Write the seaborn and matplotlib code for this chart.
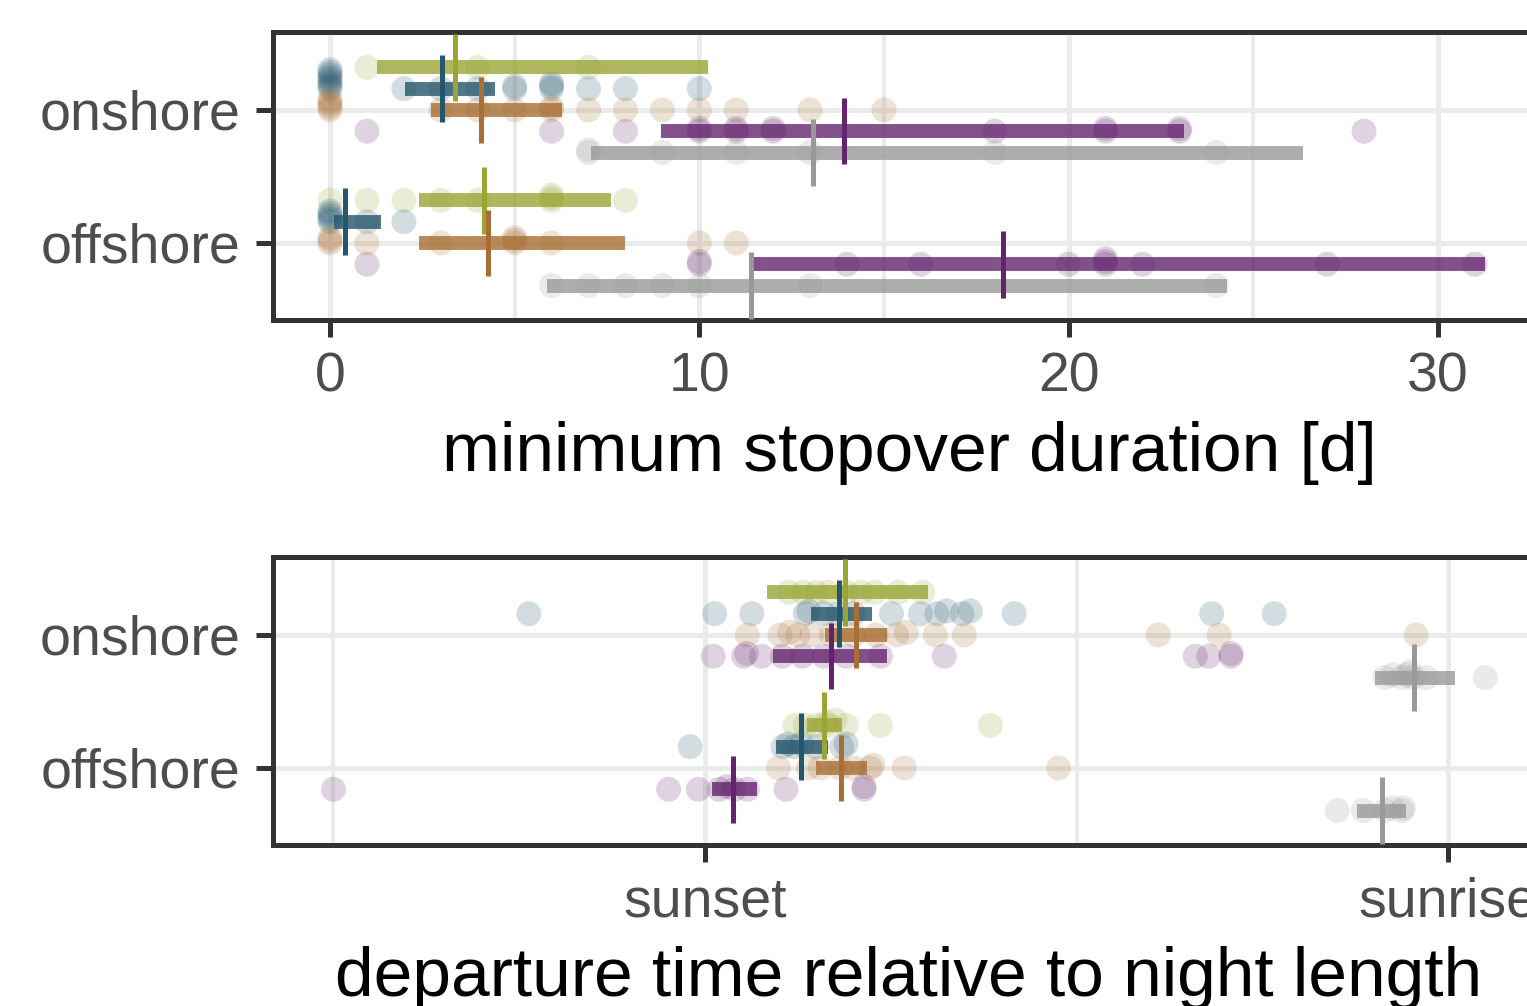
import numpy as np
import pandas as pd
import matplotlib
matplotlib.use("Agg")
import matplotlib.pyplot as plt
import seaborn as sns

# ---------------- data ----------------
sites = ["onshore", "offshore"]
species = ["A", "B", "C", "D", "E"]
colors = ["#9AA536", "#24566C", "#A86E33", "#63246D", "#999999"]

# minimum stopover duration [d] -- individual points
dur_on_A = [1, 4, 7]
dur_on_B = [0, 0, 0, 0, 0, 0, 0, 0, 2, 3, 4, 5, 5, 6, 6, 6, 7, 8, 10]
dur_on_C = [0, 0, 0, 0, 0, 3, 4, 5, 6, 6, 7, 8, 9, 10, 11, 13, 15]
dur_on_D = [1, 6, 8, 10, 10, 11, 11, 12, 12, 18, 21, 21, 23, 23, 28]
dur_on_E = [7, 7, 9, 11, 13, 18, 24]
dur_off_A = [0, 1, 2, 3, 4, 6, 6, 6, 8]
dur_off_B = [0, 0, 0, 0, 0, 1, 2]
dur_off_C = [0, 0, 0, 1, 3, 5, 5, 5, 6, 10, 11]
dur_off_D = [1, 10, 10, 14, 16, 20, 21, 21, 21, 22, 27, 31]
dur_off_E = [6, 7, 8, 9, 10, 13, 24]

# minimum stopover duration -- estimate (median) and interval per species
dur_on_med = [3.38, 3.03, 4.09, 13.93, 13.08]
dur_on_lo = [1.27, 2.04, 2.73, 8.95, 7.08]
dur_on_hi = [10.24, 4.47, 6.28, 23.12, 26.35]
dur_off_med = [4.16, 0.40, 4.27, 18.22, 11.40]
dur_off_lo = [2.40, 0.12, 2.42, 11.48, 5.88]
dur_off_hi = [7.62, 1.39, 8.00, 31.28, 24.28]

# departure time relative to night length (0 = sunset, 1 = sunrise)
dep_on_A = [0.113, 0.132, 0.150, 0.165, 0.190, 0.210, 0.228, 0.260, 0.293]
dep_on_B = [-0.237, 0.013, 0.063, 0.135, 0.140, 0.160, 0.180, 0.200, 0.251,
            0.290, 0.312, 0.325, 0.346, 0.357, 0.416, 0.682, 0.766]
dep_on_C = [0.057, 0.101, 0.114, 0.125, 0.144, 0.170, 0.200, 0.230, 0.258,
            0.271, 0.310, 0.349, 0.610, 0.692, 0.957]
dep_on_D = [0.011, 0.052, 0.056, 0.076, 0.104, 0.131, 0.160, 0.190, 0.236,
            0.322, 0.660, 0.678, 0.708, 0.708]
dep_on_E = [0.915, 0.926, 0.938, 0.945, 0.949, 0.953, 0.971, 1.050]
dep_off_A = [0.121, 0.135, 0.150, 0.163, 0.166, 0.175, 0.190, 0.236, 0.384]
dep_off_B = [-0.020, 0.105, 0.112, 0.120, 0.130, 0.150, 0.184, 0.190]
dep_off_C = [0.099, 0.139, 0.155, 0.182, 0.200, 0.222, 0.226, 0.268, 0.476]
dep_off_D = [-0.500, -0.049, -0.009, 0.019, 0.030, 0.040, 0.057, 0.109, 0.214, 0.214]
dep_off_E = [0.851, 0.886, 0.915, 0.925, 0.938, 0.940]

dep_on_med = [0.188, 0.180, 0.203, 0.169, 0.954]
dep_on_lo = [0.084, 0.143, 0.1615, 0.092, 0.902]
dep_on_hi = [0.300, 0.225, 0.245, 0.245, 1.009]
dep_off_med = [0.160, 0.129, 0.183, 0.038, 0.911]
dep_off_lo = [0.137, 0.096, 0.149, 0.009, 0.877]
dep_off_hi = [0.184, 0.165, 0.218, 0.070, 0.9435]

xticks_top = [0, 10, 20, 30]
xticks_bottom = [0, 1]
xticklabels_bottom = ["sunset", "sunrise"]


def make_df(on_lists, off_lists):
    rows = []
    for site, lists in zip(sites, [on_lists, off_lists]):
        for sp, vals in zip(species, lists):
            for v in vals:
                rows.append({"site": site, "species": sp, "value": v})
    return pd.DataFrame(rows)


df_dur = make_df([dur_on_A, dur_on_B, dur_on_C, dur_on_D, dur_on_E],
                 [dur_off_A, dur_off_B, dur_off_C, dur_off_D, dur_off_E])
df_dep = make_df([dep_on_A, dep_on_B, dep_on_C, dep_on_D, dep_on_E],
                 [dep_off_A, dep_off_B, dep_off_C, dep_off_D, dep_off_E])

# ---------------- style ----------------
sns.set_style("white")
plt.rcParams["font.family"] = ["Liberation Sans", "DejaVu Sans"]

W, H = 1527, 1006
fig = plt.figure(figsize=(W / 100, H / 100), dpi=100)

PX_Y = 133.0          # pixels per category unit
DODGE = 0.16
STEP = 2.7 / PX_Y     # small upward offset for overlapping points


def stack_points(ax, thr):
    for coll in ax.collections:
        off = np.array(coll.get_offsets(), dtype=float)
        if len(off) == 0:
            continue
        xs = off[:, 0]
        order = np.argsort(xs, kind="stable")
        placed = []
        lv = np.zeros(len(xs))
        for i in order:
            k = 0
            while any(abs(xs[i] - px) < thr and pl == k for px, pl in placed):
                k += 1
            placed.append((xs[i], k))
            lv[i] = k
        off[:, 1] = off[:, 1] - lv * STEP
        coll.set_offsets(off)


def panel(ax, df, summaries, xlim, px_per_x, xlabel):
    ax.set_axisbelow(True)
    sns.stripplot(data=df, x="value", y="site", hue="species", order=sites,
                  hue_order=species, palette=colors, dodge=True, jitter=False,
                  size=18, alpha=0.2, linewidth=0, legend=False, ax=ax, zorder=2)
    stack_points(ax, 10.0 / px_per_x)
    for ci, (med, lo, hi) in enumerate(summaries):
        for hi_i, sp in enumerate(species):
            y = ci + (hi_i - 2) * DODGE
            ax.hlines(y, lo[hi_i], hi[hi_i], color=colors[hi_i], alpha=0.8,
                      lw=10, capstyle="butt", zorder=3)
    for ci, (med, lo, hi) in enumerate(summaries):
        for hi_i, sp in enumerate(species):
            y = ci + (hi_i - 2) * DODGE
            ax.vlines(med[hi_i], y - 0.25, y + 0.25, color=colors[hi_i],
                      lw=3.6, capstyle="butt", zorder=4)
    ax.set_xlim(*xlim)
    ax.set_ylim(1.579, -0.586)
    ax.grid(True, which="major", color="#EBEBEB", lw=3.6)
    ax.grid(True, which="minor", axis="x", color="#EBEBEB", lw=2.9)
    for s in ax.spines.values():
        s.set_color("#333333")
        s.set_linewidth(3.6)
    ax.tick_params(axis="both", which="major", labelsize=40, labelcolor="#4D4D4D",
                   length=12.5, width=3.6, color="#333333", pad=10.5,
                   bottom=True, left=True)
    ax.tick_params(axis="y", pad=11)
    ax.tick_params(which="minor", length=0)
    ax.set_ylabel("")
    ax.set_xlabel(xlabel, fontsize=50, color="black", labelpad=12)


ax1 = fig.add_axes([273 / W, 1 - 320 / H, (1545 - 273) / W, 288 / H])
panel(ax1, df_dur,
      [(dur_on_med, dur_on_lo, dur_on_hi), (dur_off_med, dur_off_lo, dur_off_hi)],
      (-57 / 36.93, (1545 - 330) / 36.93), 36.93, "minimum stopover duration [d]")
ax1.set_xticks(xticks_top)
ax1.set_xticks([5, 15, 25], minor=True)

ax2 = fig.add_axes([273 / W, 1 - 845 / H, (1545 - 273) / W, 288 / H])
panel(ax2, df_dep,
      [(dep_on_med, dep_on_lo, dep_on_hi), (dep_off_med, dep_off_lo, dep_off_hi)],
      ((273 - 705) / 743, (1545 - 705) / 743), 743.0,
      "departure time relative to night length")
ax2.set_xticks(xticks_bottom)
ax2.set_xticklabels(xticklabels_bottom)
ax2.set_xticks([-0.5, 0.5], minor=True)

fig.savefig("out.png", dpi=100)
